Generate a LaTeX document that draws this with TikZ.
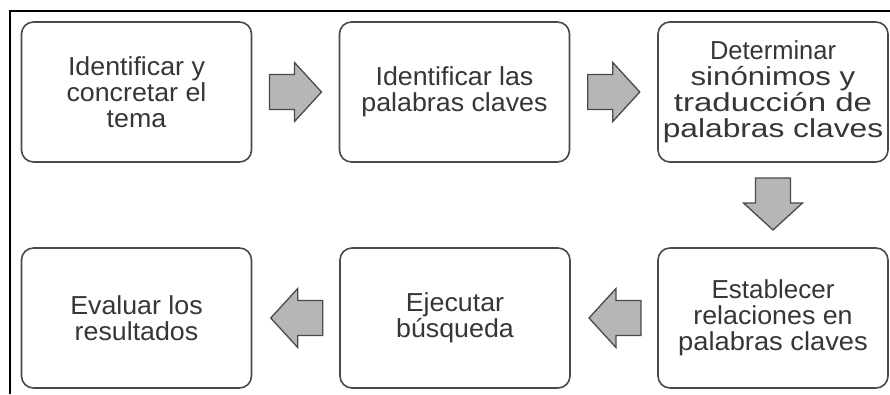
\documentclass[tikz,border=0pt]{standalone}
\usepackage{fontspec}
\setmainfont{Liberation Sans}
\usetikzlibrary{calc}
\definecolor{txt}{HTML}{363636}
\definecolor{edge}{HTML}{4A4A4A}
\definecolor{arrfill}{HTML}{B6B6B6}
\newcommand\sx[2]{\scalebox{#1}[1]{#2}}
\newcommand\barrow[2]{\draw[blockarrow, shift={(#1)}, rotate=#2] (-26,17.5) -- (-1,17.5) -- (-1,29.5) -- (26,0) -- (-1,-29.5) -- (-1,-17.5) -- (-26,-17.5) -- cycle;}
\begin{document}
\begin{tikzpicture}[x=1pt,y=1pt,
  stepbox/.style={draw=edge, line width=1.6pt, rounded corners=12pt,
    minimum width=230pt, minimum height=140pt, inner sep=0pt,
    align=center, text=txt, font=\fontsize{26}{26}\selectfont},
  blockarrow/.style={draw=edge, line width=1.3pt, fill=arrfill, line join=miter}]
\useasboundingbox (0,0) rectangle (890,394);
\fill[white] (0,0) rectangle (890,394);
\draw[line width=2pt] (10,0) -- (10,383) -- (890,383);

\node[stepbox] (b1) at (136.5,302) {\sx{1.03}{Identificar y}\\ \sx{1.03}{concretar el}\\ \sx{1.03}{tema}};
\node[stepbox] (b2) at (454.5,302) {\sx{1.03}{Identificar las}\\ \sx{1.03}{palabras claves}};
\node[stepbox] (b3) at (773,302) {\sx{0.98}{Determinar}\\ \sx{1.2}{sinónimos y}\\ \sx{1.27}{traducción de}\\ \sx{1.22}{palabras claves}};
\node[stepbox] (b4) at (773,76) {\sx{1.0}{Establecer}\\ \sx{1.03}{relaciones en}\\ \sx{1.05}{palabras claves}};
\node[stepbox] (b5) at (455,76) {\sx{1.03}{Ejecutar}\\ \sx{1.03}{búsqueda}};
\node[stepbox] (b6) at (136.5,76) {\sx{1.03}{Evaluar los}\\ \sx{1.03}{resultados}};

\coordinate (m12) at ($(b1.east)!0.5!(b2.west)$);
\coordinate (m23) at ($(b2.east)!0.5!(b3.west)$);
\coordinate (m34) at ($(b3.south)!0.5!(b4.north)+(0,1)$);
\coordinate (m45) at ($(b4.west)!0.5!(b5.east)+(1,0)$);
\coordinate (m56) at ($(b5.west)!0.5!(b6.east)+(1,0)$);

\barrow{m12}{0}
\barrow{m23}{0}
\barrow{m34}{-90}
\barrow{m45}{180}
\barrow{m56}{180}
\end{tikzpicture}
\end{document}
